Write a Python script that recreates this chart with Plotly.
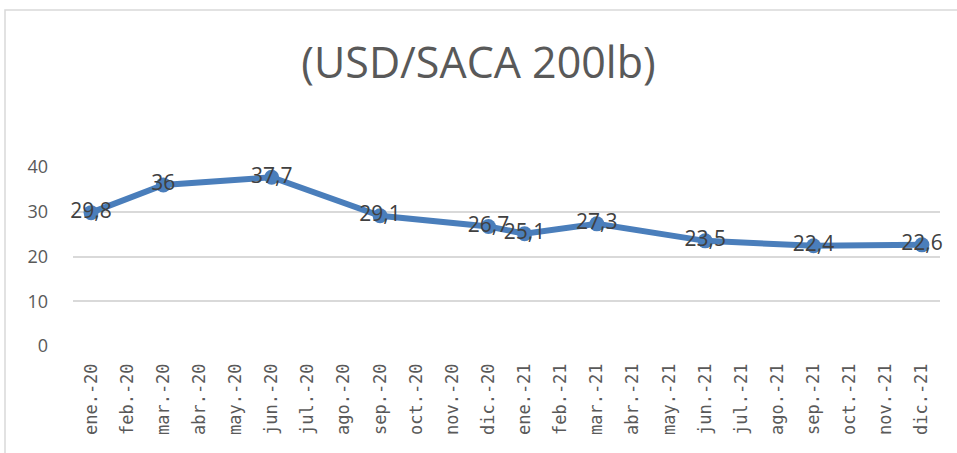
import plotly.graph_objects as go

months = ["ene.-20", "feb.-20", "mar.-20", "abr.-20", "may.-20", "jun.-20",
          "jul.-20", "ago.-20", "sep.-20", "oct.-20", "nov.-20", "dic.-20",
          "ene.-21", "feb.-21", "mar.-21", "abr.-21", "may.-21", "jun.-21",
          "jul.-21", "ago.-21", "sep.-21", "oct.-21", "nov.-21", "dic.-21"]
prices = [29.8, None, 36, None, None, 37.7,
          None, None, 29.1, None, None, 26.7,
          25.1, None, 27.3, None, None, 23.5,
          None, None, 22.4, None, None, 22.6]
y_ticks = [0, 10, 20, 30, 40]

labels = ["" if v is None else (f"{v:g}").replace(".", ",") for v in prices]

fig = go.Figure()
fig.add_trace(go.Scatter(
    x=months, y=prices, mode="lines+markers+text",
    connectgaps=True,
    line=dict(color="#4a7ebb", width=6),
    marker=dict(color="#4a7ebb", size=15),
    text=labels, textposition="middle center",
    textfont=dict(family="Open Sans, sans-serif", size=21, color="#404040"),
    hoverinfo="skip",
    cliponaxis=False,
))

fig.update_layout(
    width=957, height=453,
    margin=dict(l=73, r=17, t=167, b=107, autoexpand=False),
    paper_bgcolor="white", plot_bgcolor="white",
    showlegend=False,
    title=dict(text="(USD/SACA 200lb)", x=0.5, xanchor="center", y=0.862, yanchor="middle",
               font=dict(family="Open Sans, sans-serif", size=43, color="#595959")),
    xaxis=dict(type="category", categoryorder="array", categoryarray=months,
               range=[-0.5, len(months) - 0.5],
               tickangle=-90, showgrid=False, showline=False, ticks="", automargin=False,
               ticklabelstandoff=13,
               tickfont=dict(family="DejaVu Sans Mono, monospace", size=17, color="#595959")),
    yaxis=dict(range=[0, 40], tickvals=y_ticks, showgrid=True, gridcolor="#d9d9d9", gridwidth=1.5,
               zeroline=False, showline=False, ticks="", ticklabelstandoff=24, automargin=False,
               tickfont=dict(family="Open Sans, sans-serif", size=18, color="#595959")),
    shapes=[dict(type="rect", xref="paper", yref="paper",
                 x0=(5 - 73) / 867, x1=(990 - 73) / 867,
                 y0=(346 - 480) / 179, y1=(346 - 10) / 179,
                 line=dict(color="#d9d9d9", width=1.5), fillcolor="rgba(0,0,0,0)", layer="below")],
)

fig.write_html("out.html", config={"displayModeBar": False},
               post_script="document.body.style.margin='0';")
